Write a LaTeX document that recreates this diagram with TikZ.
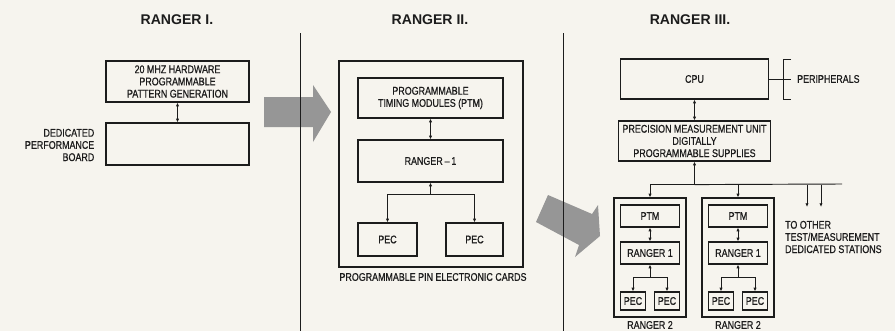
\documentclass[tikz,border=0pt]{standalone}
\usepackage{fontspec}
\setmainfont[FakeStretch=0.8,FakeBold=0.7]{Liberation Sans}
\newfontfamily\headfont{Liberation Sans}
\usetikzlibrary{arrows.meta,calc,positioning}
\definecolor{paper}{RGB}{246,244,238}
\definecolor{ink}{RGB}{28,28,28}
\definecolor{arrowgray}{RGB}{150,150,150}

\begin{document}
\begin{tikzpicture}[
  x=0.03cm, y=-0.03cm,
  font=\fontsize{9.5}{10.4}\selectfont,
  >={Latex[length=3.2pt,width=2.8pt]},
  line/.style={draw=ink, line width=0.8pt},
  arrow/.style={line, ->},
  dblarrow/.style={line, <->},
  bw/.code={\pgfmathsetlengthmacro\boxw{#1*0.03cm}\tikzset{minimum width=\boxw}},
  bh/.code={\pgfmathsetlengthmacro\boxh{#1*0.03cm}\tikzset{minimum height=\boxh}},
  box/.style={draw=ink, line width=1pt, inner sep=1pt, align=center, text=ink},
  title/.style={font=\headfont\bfseries\fontsize{12}{14}\selectfont, text=ink},
  label/.style={align=center, text=ink},
  fatarrow/.style={fill=arrowgray, draw=none}
]

\fill[paper] (0,0) rectangle (895,331);
\useasboundingbox (0,0) rectangle (895,331);

% Headings
\node[title] (head1) at (177,20) {RANGER I.};
\node[title] (head2) at (430,20) {RANGER II.};
\node[title] (head3) at (690,20) {RANGER III.};

% Step arrows (under the separators)
\fill[fatarrow] (264,97) -- (313,97) -- (313,85) -- (331,112) -- (313,142) -- (313,127) -- (264,127) -- cycle;
\fill[fatarrow] (548,195) -- (592,214) -- (598,205) -- (600,236) -- (575,257) -- (579,245) -- (536,222) -- cycle;

% Separators
\draw[line] (300,33) -- (300,331);
\draw[line] (563,33) -- (563,331);

% Ranger I
\node[box, bw=143, bh=41] (patgen) at (177.5,81.5) {20 MHZ HARDWARE\\PROGRAMMABLE\\PATTERN GENERATION};
\node[box, bw=143, bh=42] (perfbd) at (177.5,144) {};
\node[label, align=right, anchor=east] (perfname) at ($(perfbd.west)+(-7,1)$) {DEDICATED\\PERFORMANCE\\BOARD};
\draw[dblarrow] (patgen) -- (perfbd);

% Ranger II
\node[box, bw=184, bh=206] (cards) at (431,164) {};
\node[box, bw=145, bh=40] (ptm) at (430.5,98) {PROGRAMMABLE\\TIMING MODULES (PTM)};
\node[box, bw=145, bh=42] (rng) at (430.5,161) {RANGER\,--\,1};
\node[box, bw=59, bh=33] (pecl) at (387.5,239.5) {PEC};
\node[box, bw=57, bh=33] (pecr) at (474.5,239.5) {PEC};
\draw[dblarrow] (ptm) -- (rng);
\coordinate (tree) at ($(rng.south)+(0,12)$);
\draw[arrow] (tree) -- (rng);
\draw[arrow] (tree) -| (pecl);
\draw[arrow] (tree) -| (pecr);
\node[label] (cardsname) at (433,277) {PROGRAMMABLE PIN ELECTRONIC CARDS};

% Ranger III
\node[box, bw=148, bh=40] (cpu) at (694.5,79) {CPU};
\node[box, bw=152, bh=40] (pmu) at (694.5,141) {PRECISION MEASUREMENT UNIT\\DIGITALLY\\PROGRAMMABLE SUPPLIES};
\draw[dblarrow] (cpu) -- (pmu);

\coordinate (pbus) at ($(cpu.east)+(14,0)$);
\draw[line] (cpu) -- (pbus);
\draw[line] ($(pbus)+(8,-20)$) -| ($(pbus)+(0,20)$) -- ++(8,0);
\draw[line] (pbus) -- ++(8,0);
\node[label, anchor=west] (periph) at ($(pbus)+(10,0)$) {PERIPHERALS};

\coordinate (bus) at ($(pmu.south)+(0,23)$);
\coordinate (busend) at (842,184);
\draw[arrow] (bus) -- (pmu);
\draw[line] (bus) -- (busend);

\foreach \cx/\id in {650/a,738/b}{
  \node[box, bw=72, bh=119] (unit\id) at (\cx,257.5) {};
  \node[box, bw=59, bh=22] (ptm\id) at (\cx,216) {PTM};
  \node[box, bw=59, bh=22] (rng\id) at (\cx,253) {RANGER 1};
  \node[box, bw=25, bh=18, inner sep=0pt] (pecl\id) at (\cx-17,301) {PEC};
  \node[box, bw=25, bh=18, inner sep=0pt] (pecr\id) at (\cx+17,301) {PEC};
  \draw[dblarrow] (ptm\id) -- (rng\id);
  \coordinate (tree\id) at ($(rng\id.south)+(0,13)$);
  \draw[arrow] (tree\id) -- (rng\id);
  \draw[arrow] (tree\id) -| (pecl\id);
  \draw[arrow] (tree\id) -| (pecr\id);
  \draw[arrow] (bus) -| (unit\id);
  \node[label] (name\id) at (\cx,325) {RANGER 2};
}

\coordinate (stna) at (807,207);
\coordinate (stnb) at (821,207);
\draw[arrow] (stna |- bus) -- (stna);
\draw[arrow] (stnb |- bus) -- (stnb);
\node[label, align=left, anchor=west] (others) at (781,237) {TO OTHER\\TEST/MEASUREMENT\\DEDICATED STATIONS};

\end{tikzpicture}
\end{document}
